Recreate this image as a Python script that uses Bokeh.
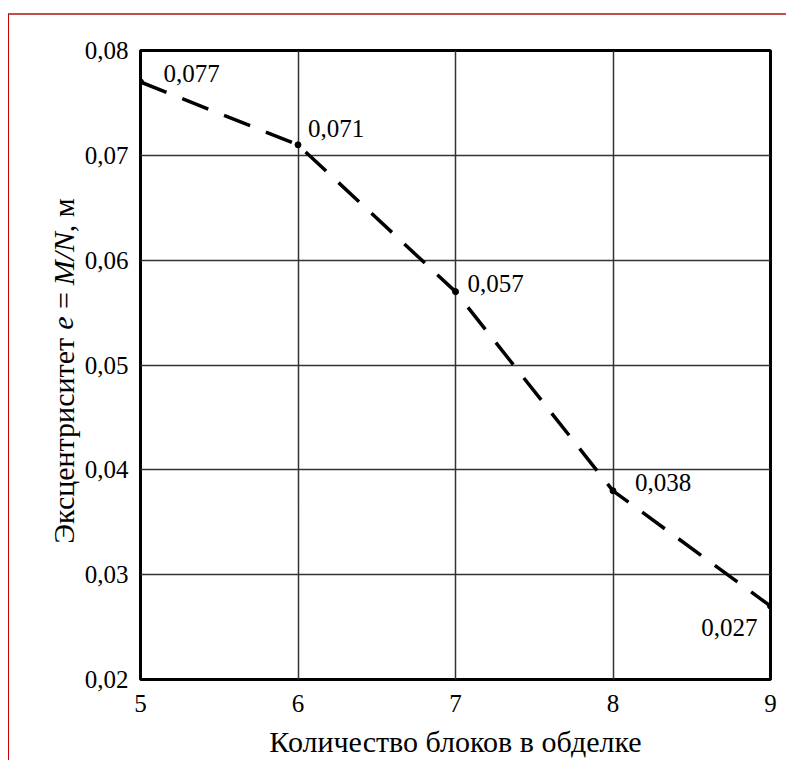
import math
from bokeh.plotting import figure
from bokeh.layouts import row
from bokeh.models import ColumnDataSource, FixedTicker
from bokeh.core.properties import value
from bokeh.embed import file_html
from bokeh.resources import INLINE

# ---- data ----
blocks = [5, 6, 7, 8, 9]
ecc = [0.077, 0.071, 0.057, 0.038, 0.027]
point_labels = ["0,077", "0,071", "0,057", "0,038", "0,027"]
x_ticks = [5, 6, 7, 8, 9]
x_tick_labels = ["5", "6", "7", "8", "9"]
y_ticks = [0.02, 0.03, 0.04, 0.05, 0.06, 0.07, 0.08]
y_tick_labels = ["0,02", "0,03", "0,04", "0,05", "0,06", "0,07", "0,08"]
x_label = "Количество блоков в обделке"
# y axis title, split into upright / italic pieces
y_label_parts = ["Эксцентриситет", "e", "=", "M/N", ", м"]
y_label_italic = [False, True, False, True, False]

# ---- styling / placement (pixels) ----
lab_dx = [23, 10, 12, 22, -13]
lab_dy = [-8, -16, -8, -8, 21]
lab_align = ["left", "left", "left", "left", "right"]
ylab_start = [548, 332, 311, 287, 233.5]   # page y where each piece starts

FONT = "'Liberation Serif', 'Times New Roman', serif"
FS = "25px"
FS_TITLE = "30px"

PAGE_X0, PAGE_Y0 = 9, 15          # page position of the canvases
FRAME_L, FRAME_T = 140, 50        # page position of the plot frame
TOP, FH, BOT = FRAME_T - PAGE_Y0, 629, 75
H = TOP + FH + BOT
MAIN_LB = 58                      # main figure's left border (y tick labels)
LW = FRAME_L - PAGE_X0 - MAIN_LB - 1  # width of the y-title strip

y0, y1 = y_ticks[0], y_ticks[-1]
k = (y1 - y0) / FH                # data units per pixel

# ---- y-title strip (its frame is aligned with the main frame) ----
lab = figure(output_backend="svg", toolbar_location=None,
             width=LW, height=H, x_range=(0, LW), y_range=(y0, y1),
             x_axis_type=None, y_axis_type=None,
             min_border=0, min_border_left=0, min_border_right=0,
             min_border_top=TOP, min_border_bottom=BOT)
lab.grid.visible = False
lab.outline_line_color = None
lab.background_fill_color = "white"
lab.border_fill_color = "white"

ys = [y1 - (s - FRAME_T) * k for s in ylab_start]
xs = [54] * len(ys)
for flag, st in ((False, "normal"), (True, "italic")):
    s = ColumnDataSource(dict(
        x=[x for x, i in zip(xs, y_label_italic) if i == flag],
        y=[y for y, i in zip(ys, y_label_italic) if i == flag],
        t=[t for t, i in zip(y_label_parts, y_label_italic) if i == flag]))
    lab.text("x", "y", text="t", source=s, angle=math.pi / 2,
             text_align="left", text_baseline="alphabetic",
             text_font=value(FONT), text_font_size=FS_TITLE,
             text_font_style=st, text_color="black")

# ---- main chart ----
p = figure(
    output_backend="svg", toolbar_location=None,
    x_range=(5, 9), y_range=(y0, y1),
    frame_width=630, frame_height=FH,
    min_border_left=MAIN_LB, min_border_right=16,
    min_border_top=TOP, min_border_bottom=BOT,
)
p.background_fill_color = "white"
p.border_fill_color = "white"
p.outline_line_color = "black"
p.outline_line_width = 3

for ax in (p.xaxis[0], p.yaxis[0]):
    ax.axis_line_color = None
    ax.major_tick_line_color = None
    ax.minor_tick_line_color = None
    ax.major_tick_out = 0
    ax.major_tick_in = 0
    ax.minor_tick_out = 0
    ax.minor_tick_in = 0
    ax.major_label_text_font = FONT
    ax.major_label_text_font_size = FS
    ax.major_label_text_color = "black"

p.xaxis.ticker = FixedTicker(ticks=x_ticks)
p.yaxis.ticker = FixedTicker(ticks=y_ticks)
p.xaxis.major_label_overrides = {t: l for t, l in zip(x_ticks, x_tick_labels)}
p.yaxis.major_label_overrides = {t: l for t, l in zip(y_ticks, y_tick_labels)}
p.xaxis.major_label_standoff = 15
p.yaxis.major_label_standoff = 12

ax = p.xaxis[0]
ax.axis_label = x_label
ax.axis_label_text_font = FONT
ax.axis_label_text_font_size = FS_TITLE
ax.axis_label_text_font_style = "normal"
ax.axis_label_text_color = "black"
ax.axis_label_standoff = 10

p.xgrid.ticker = FixedTicker(ticks=x_ticks)
p.ygrid.ticker = FixedTicker(ticks=y_ticks)
p.grid.grid_line_color = "#333333"
p.grid.grid_line_width = 1.5

src = ColumnDataSource(dict(x=blocks, y=ecc, lab=point_labels,
                            dx=lab_dx, dy=lab_dy, al=lab_align))
p.line("x", "y", source=src, line_color="black", line_width=3.5,
       line_dash="28 17")
p.scatter("x", "y", source=src, size=6, color="black")
p.text("x", "y", text="lab", source=src, x_offset="dx", y_offset="dy",
       text_align="al", text_baseline="middle",
       text_font=value(FONT), text_font_size=FS, text_color="black")

layout = row(lab, p, spacing=0,
             styles={"border-top": "2px solid #c0504d",
                     "border-left": "1px solid #c00000",
                     "margin-top": "13px", "margin-left": "8px"})

open("out.html", "w").write(file_html(layout, INLINE))
